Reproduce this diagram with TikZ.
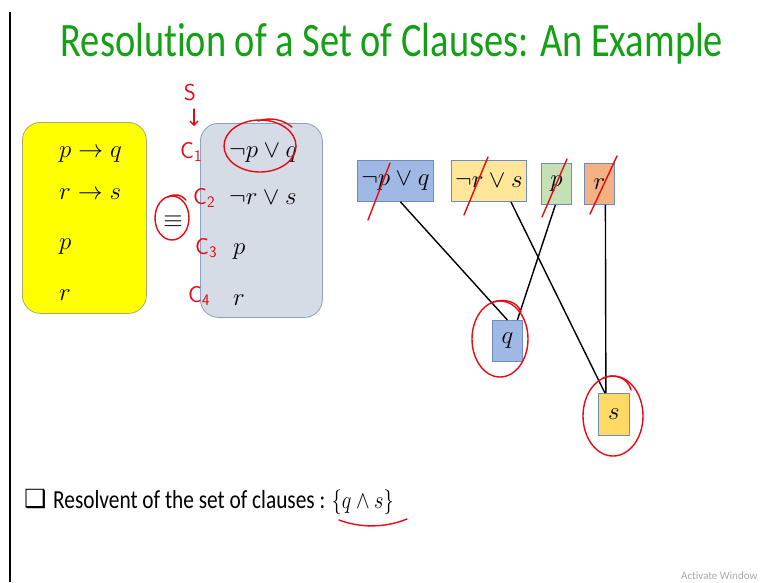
\documentclass[tikz,border=0pt]{standalone}
\usepackage{fontspec}
\setmainfont[Ligatures=NoCommon]{Carlito}
\newfontfamily\djv{DejaVu Sans}
\usetikzlibrary{calc,arrows.meta}
\definecolor{titlegreen}{RGB}{20,160,20}
\definecolor{ybox}{RGB}{255,255,0}
\definecolor{yboxb}{RGB}{170,170,110}
\definecolor{gbox}{RGB}{214,220,229}
\definecolor{gboxb}{RGB}{140,160,195}
\definecolor{bluec}{RGB}{160,185,228}
\definecolor{bluecb}{RGB}{110,140,190}
\definecolor{yelc}{RGB}{255,230,153}
\definecolor{grnc}{RGB}{197,224,180}
\definecolor{orgc}{RGB}{244,177,131}
\definecolor{goldc}{RGB}{255,217,102}
\definecolor{inkred}{RGB}{230,10,20}
\definecolor{wmgray}{RGB}{170,170,170}
\tikzset{
  bigbox/.style={draw, rounded corners=18pt, line width=0.8pt},
  clause/.style={draw=bluecb, line width=0.8pt, inner sep=0pt, font=\fontsize{24}{28}\selectfont},
  mathtxt/.style={font=\fontsize{23}{27}\selectfont, anchor=base west, inner sep=0pt},
  redink/.style={draw=inkred, line width=1.4pt, line cap=round, line join=round},
  redtxt/.style={text=inkred, font=\sffamily\fontsize{23}{25}\selectfont, inner sep=0pt},
  link/.style={draw=black, line width=1.4pt}
}
\begin{document}
\begin{tikzpicture}[x=1pt,y=-1pt]
\useasboundingbox (0,0) rectangle (766,582);
\fill[white] (0,0) rectangle (766,582);
% left rule
\draw[line width=1.2pt] (10,12) -- (10,582);
% title
\node[text=titlegreen, font=\fontsize{48}{54}\selectfont, anchor=base, inner sep=0pt] (title) at (392,56) {\scalebox{0.8}[1]{Resolution of a Set of Clauses: An Example}};
% left boxes
\node[bigbox, fill=ybox, draw=yboxb, minimum width=124pt, minimum height=191pt, anchor=north west] (ybx) at (22,122) {};
\node[bigbox, fill=gbox, draw=gboxb, minimum width=122pt, minimum height=194pt, anchor=north west] (gbx) at (200,123) {};
\node[mathtxt] (f1) at (59,157) {$p\rightarrow q$};
\node[mathtxt] (f2) at (59,199) {$r\rightarrow s$};
\node[mathtxt] (f3) at (59,249) {$p$};
\node[mathtxt] (f4) at (59,300) {$r$};
\node[mathtxt] (c1) at (229,157) {$\neg p\vee q$};
\node[mathtxt] (c2) at (229,204) {$\neg r\vee s$};
\node[mathtxt] (c3) at (233,254) {$p$};
\node[mathtxt] (c4) at (233,305) {$r$};
\node[font=\fontsize{26}{28}\selectfont, inner sep=0pt] (eqv) at (173,222) {$\equiv$};
% red annotations
\node[redtxt] (sS) at (190,93) {S};
\draw[redink, ->, >={Straight Barb[length=4pt]}] (194,109) -- (194,126);
\node[redtxt, anchor=base west] (l1) at (180,158) {C\textsubscript{1}};
\node[redtxt, anchor=base west] (l2) at (193,204) {C\textsubscript{2}};
\node[redtxt, anchor=base west] (l3) at (195,254) {C\textsubscript{3}};
\node[redtxt, anchor=base west] (l4) at (188,302) {C\textsubscript{4}};
\draw[redink] (260,146) ellipse [x radius=36, y radius=26];
\draw[redink] (258,121) .. controls (270,117) and (282,119) .. (292,127);
\draw[redink] (172,218) ellipse [x radius=17, y radius=22];
\draw[redink] (168,197) .. controls (175,193) and (182,195) .. (186,200);
% top clause boxes
\node[clause, fill=bluec, minimum width=76pt, minimum height=41pt, anchor=north west] (b1) at (357,160) {$\neg p\vee q$};
\node[clause, fill=yelc, minimum width=75pt, minimum height=41pt, anchor=north west] (b2) at (451,160) {$\neg r\vee s$};
\node[clause, fill=grnc, minimum width=30pt, minimum height=41pt, anchor=north west] (b3) at (541,163) {$p$};
\node[clause, fill=orgc, minimum width=30pt, minimum height=41pt, anchor=north west] (b4) at (584,163) {$r$};
\node[clause, fill=bluec, minimum width=30pt, minimum height=41pt, anchor=north west] (q) at (492,320) {$q$};
\node[clause, fill=goldc, minimum width=31pt, minimum height=42pt, anchor=north west] (s) at (598,393) {$s$};
% connectors
\draw[link] ([xshift=5pt]b1.south) -- ([xshift=0pt]q.north);
\draw[link] ([xshift=-1pt]b3.south) -- ([xshift=10pt]q.north);
\draw[link] ([xshift=22pt]b2.south) -- ([xshift=-9pt]s.north);
\draw[link] ([xshift=6pt]b4.south) -- ([xshift=-8pt]s.north);
% strike-outs
\draw[redink] (368,220) -- (390,163);
\draw[redink] (464,215) -- (488,157);
\draw[redink] (542,217) -- (567,159);
\draw[redink] (590,214) -- (617,156);
% circles around results
\draw[redink] (500,339) ellipse [x radius=28, y radius=38];
\draw[redink] (493,302) .. controls (505,298) and (518,302) .. (521,312);
\draw[redink] (613,416) ellipse [x radius=30, y radius=40];
\draw[redink] (603,378) .. controls (615,373) and (628,378) .. (631,390);
% bottom line
\node[font=\djv\fontsize{25}{28}\selectfont, anchor=base west, inner sep=0pt] (chk) at (24,507) {❑};
\node[font=\fontsize{26}{30}\selectfont, anchor=base west, inner sep=0pt] (res) at (53,508) {\scalebox{0.82}[1]{Resolvent of the set of clauses : $\{q\wedge s\}$}};
\draw[redink] (339,520) .. controls (360,528) and (385,528) .. (407,519);
% watermark
\node[text=wmgray, font=\fontsize{11}{13}\selectfont, anchor=base west, inner sep=0pt] (wm) at (681,579) {Activate Window};
\end{tikzpicture}
\end{document}
